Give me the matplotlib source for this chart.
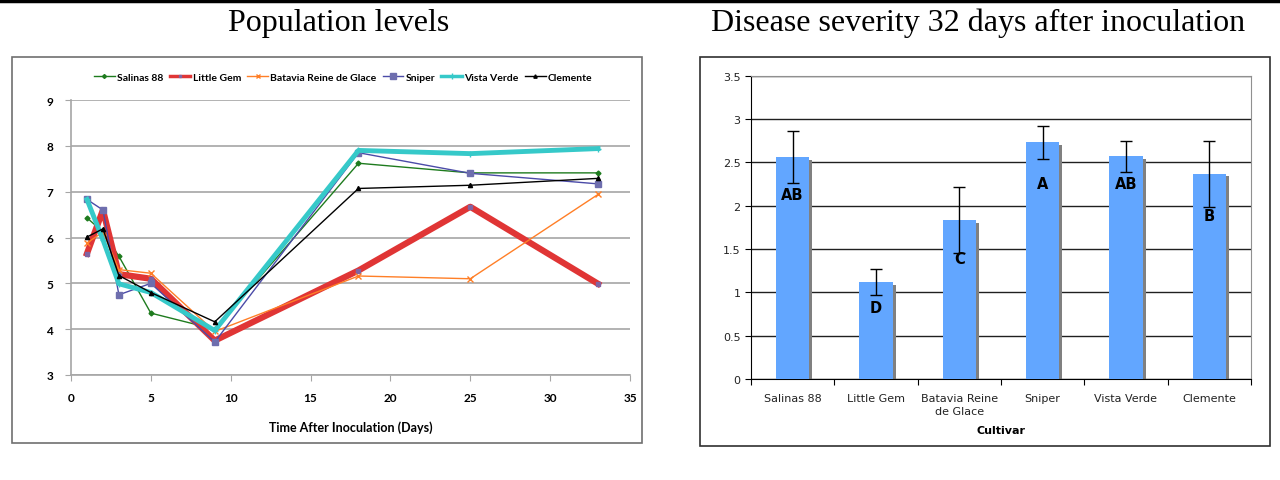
import matplotlib
matplotlib.use("Agg")
import matplotlib.pyplot as plt
from matplotlib.patches import Rectangle
from matplotlib.lines import Line2D

# population data (log cfu)
days = [1, 2, 3, 5, 9, 18, 25, 33]
salinas = [6.43, 6.12, 5.59, 4.35, 4.0, 7.62, 7.41, 7.41]
little_gem = [5.65, 6.6, 5.2, 5.1, 3.75, 5.28, 6.67, 4.99]
batavia = [5.88, 6.12, 5.3, 5.22, 3.95, 5.16, 5.1, 6.94]
sniper = [6.83, 6.6, 4.75, 5.0, 3.72, 7.85, 7.4, 7.17]
vista_verde = [6.83, 5.95, 4.99, 4.8, 3.97, 7.9, 7.83, 7.94]
clemente = [6.01, 6.19, 5.17, 4.8, 4.16, 7.07, 7.14, 7.29]

# disease severity
cultivars = ["Salinas 88", "Little Gem", "Batavia Reine\nde Glace", "Sniper", "Vista Verde", "Clemente"]
severity = [2.56, 1.115, 1.83, 2.73, 2.57, 2.37]
sev_err = [0.30, 0.15, 0.38, 0.19, 0.18, 0.38]
letters = ["AB", "D", "C", "A", "AB", "B"]
letter_y = [2.13, 0.82, 1.39, 2.26, 2.26, 1.89]

W, H = 1280, 481
fig = plt.figure(figsize=(12.8, 4.81), dpi=100)

def fx(px):
    return px / W

def fy(py):
    return 1 - py / H

# table rule and titles
fig.add_artist(Line2D([0, 1], [fy(1.5), fy(1.5)], color="black", lw=2.5))
fig.text(fx(339), fy(23), "Population levels", family="Liberation Serif",
         fontsize=23, ha="center", va="center")
fig.text(fx(978), fy(23), "Disease severity 32 days after inoculation",
         family="Liberation Serif", fontsize=23, ha="center", va="center")

# chart frames
fig.add_artist(Rectangle((fx(12), fy(444)), fx(642 - 12), (444 - 58) / H,
                         fill=False, ec="#707070", lw=1.2))
fig.add_artist(Rectangle((fx(700), fy(447)), fx(1270 - 700), (447 - 58) / H,
                         fill=False, ec="#303030", lw=1.2))

# ---- left: line chart ----
nar = ["Lato", "DejaVu Sans"]
ax = fig.add_axes([fx(71), fy(376), fx(630 - 71), (376 - 101) / H])
series = [
    ("Salinas 88", salinas, dict(color="#1E7B1E", lw=1.0, marker="D", ms=2.5)),
    ("Little Gem", little_gem, dict(color="#E03535", lw=4.5, marker="s", ms=2.5,
                                    mfc="#8064A2", mec="#8064A2")),
    ("Batavia Reine de Glace", batavia, dict(color="#FF7F27", lw=1.0, marker="x", ms=4)),
    ("Sniper", sniper, dict(color="#4B4BA8", lw=1.0, marker="s", ms=5,
                            mfc="#6E6EAE", mec="#6E6EAE")),
    ("Vista Verde", vista_verde, dict(color="#36C9C9", lw=3.5, marker="+", ms=5)),
    ("Clemente", clemente, dict(color="black", lw=1.0, marker="^", ms=3)),
]
for name, vals, st in series:
    ax.plot(days, vals, label=name, **st)

ax.set_xlim(0, 35)
ax.set_ylim(3, 9)
ax.set_xticks(range(0, 36, 5))
ax.set_yticks(range(3, 10))
ax.yaxis.grid(True, color="#A6A6A6", lw=1.2)
ax.set_axisbelow(True)
for s in ["top", "right"]:
    ax.spines[s].set_visible(False)
for s in ["left", "bottom"]:
    ax.spines[s].set_color("#A6A6A6")
    ax.spines[s].set_linewidth(1.2)
ax.tick_params(length=4, color="#A6A6A6", labelsize=8.5)
ax.tick_params(axis="y", pad=9)
ax.tick_params(axis="x", pad=8)
for lab in ax.get_xticklabels() + ax.get_yticklabels():
    lab.set_family(nar)
    lab.set_fontweight("bold")
ax.set_xlabel("Time After Inoculation (Days)", family=nar, fontweight="bold",
              fontsize=9, labelpad=13)
leg = ax.legend(loc="center", bbox_to_anchor=(0.487, 1.083), ncol=6, frameon=False,
                prop=dict(family=nar, weight="bold", size=7.5), handlelength=2.0,
                handletextpad=0.2, columnspacing=0.6, markerscale=0.8)
for h in leg.get_lines():
    h.set_linewidth(min(h.get_linewidth(), 2.5))

# ---- right: bar chart ----
bx = fig.add_axes([fx(751), fy(380), fx(1251 - 751), (380 - 76.7) / H])
pos = list(range(len(cultivars)))
bw = 0.40
bx.bar([p + 0.035 for p in pos], [v - 0.03 for v in severity], width=bw,
       color="#808080", zorder=2)
bx.bar(pos, severity, width=bw, color="#62A6FF", zorder=3)
bx.errorbar(pos, severity, yerr=sev_err, fmt="none", ecolor="black",
            elinewidth=1, capsize=4, capthick=1, zorder=4)
for p, t, y in zip(pos, letters, letter_y):
    bx.text(p, y, t, ha="center", va="center", fontsize=10.5,
            fontweight="bold", zorder=5)

bx.set_xlim(-0.5, len(cultivars) - 0.5)
bx.set_ylim(0, 3.5)
bx.set_yticks([0, 0.5, 1, 1.5, 2, 2.5, 3, 3.5])
bx.set_yticklabels(["0", "0.5", "1", "1.5", "2", "2.5", "3", "3.5"])
bx.yaxis.grid(True, color="#202020", lw=1.0)
bx.set_axisbelow(True)
bx.set_xticks([p - 0.5 for p in pos] + [len(cultivars) - 0.5])
bx.set_xticklabels([])
bx.set_xticks(pos, minor=True)
bx.set_xticklabels(cultivars, minor=True, fontsize=8, color="#222222",
                   linespacing=1.35)
bx.tick_params(axis="x", which="minor", length=0, pad=10)
bx.tick_params(axis="x", which="major", length=4)
bx.tick_params(axis="y", length=4, labelsize=8, labelcolor="#222222")
for s in ["top", "right"]:
    bx.spines[s].set_color("#909090")
bx.set_xlabel("Cultivar", fontsize=8, fontweight="bold", labelpad=7)

fig.savefig("out.png", dpi=100)
